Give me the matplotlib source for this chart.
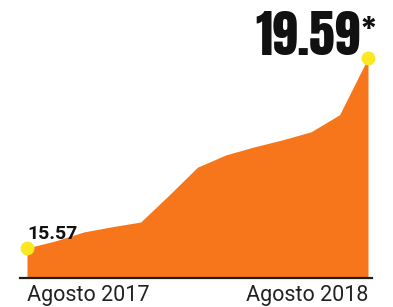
import matplotlib
matplotlib.use("Agg")
import matplotlib.pyplot as plt

# monthly values, Agosto 2017 .. Agosto 2018
months = list(range(13))
values = [15.57, 15.72, 15.91, 16.02, 16.12, 16.69, 17.28,
          17.54, 17.71, 17.86, 18.03, 18.39, 19.59]
start_label = "15.57"
end_label = "19.59"
end_note = "*"
x_labels = ["Agosto 2017", "Agosto 2018"]

orange = "#f7761b"
yellow = "#fbe81f"

fig = plt.figure(figsize=(3.93, 3.07), dpi=100)
ax = fig.add_axes([27 / 393, 29 / 307, 341 / 393, 220 / 307])
ymin = values[0] - 30 * (values[-1] - values[0]) / 190
ax.set_xlim(months[0], months[-1])
ax.set_ylim(ymin, values[-1])
ax.axis("off")

ax.fill_between(months, values, ymin, color=orange, lw=0)
ax.plot([months[0] - 0.25, months[-1] + 0.15], [ymin, ymin],
        color="#1e1e1e", lw=1.6, clip_on=False)
ax.plot([months[0], months[-1]], [values[0], values[-1]], "o",
        color=yellow, ms=10, mec="none", clip_on=False, zorder=5)

ax.text(months[0], values[0] + 0.19, start_label, fontsize=14,
        family="Roboto", weight="bold", color="#111111",
        ha="left", va="baseline")
ax.text(months[-1] - 0.28, values[-1] + 0.065, end_label, fontsize=37,
        family="Anton", color="#111111", ha="right", va="baseline",
        clip_on=False)
ax.text(months[-1] - 0.24, values[-1] + 0.95, end_note, fontsize=22,
        family="Anton", color="#111111", ha="left", va="top",
        clip_on=False)

ax.text(months[0], ymin - 0.14, x_labels[0], fontsize=15.5,
        family="Roboto", color="#222222", ha="left", va="top")
ax.text(months[-1], ymin - 0.14, x_labels[1], fontsize=15.5,
        family="Roboto", color="#222222", ha="right", va="top")

fig.savefig("out.png", dpi=100)
